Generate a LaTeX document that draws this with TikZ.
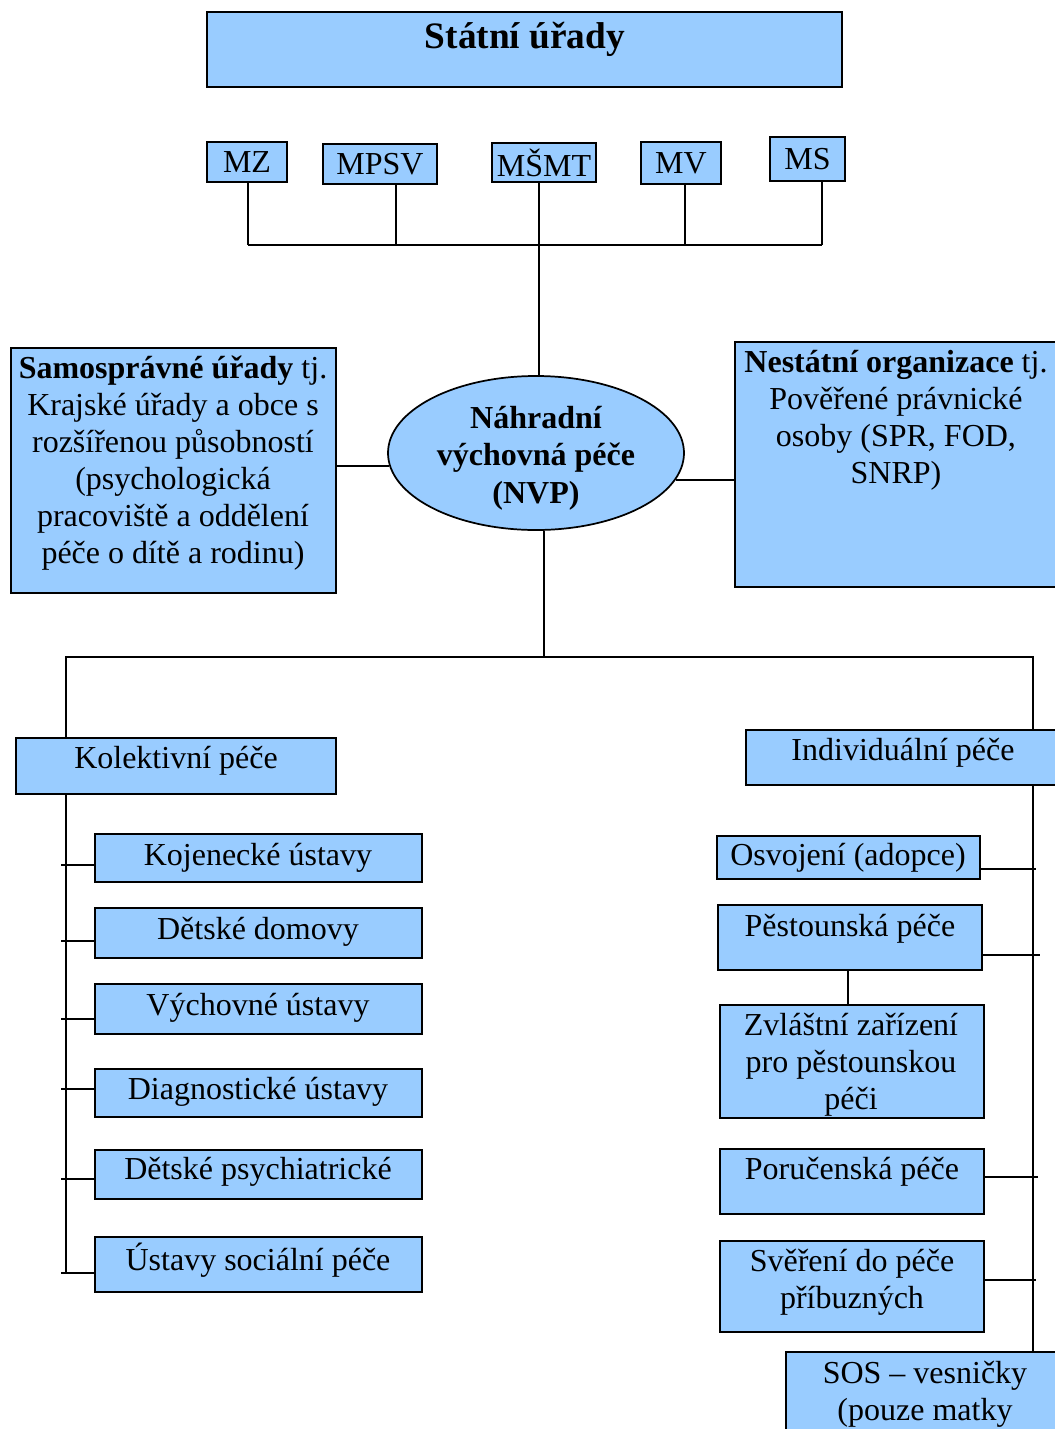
\documentclass[tikz,border=0pt]{standalone}
\usepackage{fontspec}
\setmainfont{Liberation Serif}
\usetikzlibrary{fit,shapes.geometric}
\definecolor{boxblue}{HTML}{99CCFF}
\begin{document}
\begin{tikzpicture}[x=0.75pt,y=-0.75pt,
  box/.style={draw, line width=1.3pt, fill=boxblue, inner sep=0pt, rectangle},
  txt/.style={align=center, inner sep=0pt, font=\fontsize{24}{27.75}\selectfont},
  btxt/.style={align=center, inner sep=0pt, font=\fontsize{24}{28}\selectfont\bfseries},
  conn/.style={line width=1.3pt}]
\useasboundingbox (0,0) rectangle (1055,1429);

% top
\node[box, fit={(207,12) (842,87)}] (statni) {};
\node[btxt, font=\fontsize{28}{32}\selectfont\bfseries] (statniT) at (525,39) {Státní úřady};

\node[box, fit={(207,142) (287,182)}] (mz) {};
\node[box, fit={(323,144) (437,184)}] (mpsv) {};
\node[box, fit={(492,143) (596,182)}] (msmt) {};
\node[box, fit={(641,142) (721,184)}] (mv) {};
\node[box, fit={(770,137) (845,181)}] (ms) {};
\node[txt] (mzT) at (mz) {MZ};
\node[txt] (mpsvT) at (mpsv) {MPSV};
\node[txt] (msmtT) at (msmt) {MŠMT};
\node[txt] (mvT) at (mv) {MV};
\node[txt] (msT) at (ms) {MS};

\coordinate (busL) at (248,245);
\coordinate (busR) at (822,245);
\draw[conn] (busL) -- (busR);
\draw[conn] (mz.south -| busL) -- (busL);
\draw[conn] (mpsv.south -| 396,0) -- (396,245);
\draw[conn] (mv.south -| 685,0) -- (685,245);
\draw[conn] (ms.south -| busR) -- (busR);

% centre
\node[draw, line width=1.3pt, fill=boxblue, ellipse, inner sep=0pt,
      minimum width=222pt, minimum height=115.5pt] (nvp) at (536,453) {};
\node[btxt] (nvpT) at (536,458) {Náhradní\\výchovná péče\\(NVP)};
\draw[conn] (nvp.north -| 539,0) -- (msmt.south -| 539,0);

\node[box, fit={(11,348) (336,593)}] (samo) {};
\node[txt] (samoT) at (173,463) {\textbf{Samosprávné úřady} tj.\\Krajské úřady a obce s\\rozšířenou působností\\(psychologická\\pracoviště a oddělení\\péče o dítě a rodinu)};

\node[box, fit={(735,342) (1075,587)}] (nest) {};
\node[txt] (nestT) at (896,420) {\textbf{Nestátní organizace} tj.\\Pověřené právnické\\osoby (SPR, FOD,\\SNRP)};

\draw[conn] (nvp.185) -- (nvp.185 -| samo.east);
\draw[conn] (nvp.-11) -- (nvp.-11 -| nest.west);

% lower tree
\coordinate (split) at (544,657);
\coordinate (tl) at (66,657);
\coordinate (tr) at (1033,657);

\node[box, fit={(16,738) (336,794)}] (kol) {};
\node[txt] (kolT) at (176,761) {Kolektivní péče};
\node[box, fit={(746,730) (1075,785)}] (ind) {};
\node[txt] (indT) at (903,753) {Individuální péče};

\draw[conn] (nvp.south -| split) -- (split);
\draw[conn] (tl |- kol.north) -- (tl) -- (tr) -- (tr |- ind.north);

% left column
\node[box, fit={(95,834) (422,882)}] (kj) {};
\node[txt] (kjT) at (258,858) {Kojenecké ústavy};
\node[box, fit={(95,908) (422,958)}] (dd) {};
\node[txt] (ddT) at (258,932) {Dětské domovy};
\node[box, fit={(95,984) (422,1034)}] (vu) {};
\node[txt] (vuT) at (258,1008) {Výchovné ústavy};
\node[box, fit={(95,1069) (422,1117)}] (du) {};
\node[txt] (duT) at (258,1092) {Diagnostické ústavy};
\node[box, fit={(95,1150) (422,1199)}] (dp) {};
\node[txt] (dpT) at (258,1172) {Dětské psychiatrické};
\node[box, fit={(95,1237) (422,1292)}] (us) {};
\node[txt] (usT) at (258,1260) {Ústavy sociální péče};

\draw[conn] (kol.south -| tl) -- (tl |- 0,1273);
\draw[conn] (kj.west |- 0,865) -- ++(-33,0);
\draw[conn] (dd.west |- 0,941) -- ++(-33,0);
\draw[conn] (vu.west |- 0,1019) -- ++(-33,0);
\draw[conn] (du.west |- 0,1089) -- ++(-33,0);
\draw[conn] (dp.west |- 0,1179) -- ++(-33,0);
\draw[conn] (us.west |- 0,1273) -- ++(-33,0);

% right column
\node[box, fit={(717,836) (980,879)}] (osv) {};
\node[txt] (osvT) at (848,858) {Osvojení (adopce)};
\node[box, fit={(718,905) (982,970)}] (pest) {};
\node[txt] (pestT) at (850,929) {Pěstounská péče};
\node[box, fit={(720,1005) (984,1118)}] (zvl) {};
\node[txt] (zvlT) at (851,1065) {Zvláštní zařízení\\pro pěstounskou\\péči};
\node[box, fit={(720,1149) (984,1214)}] (por) {};
\node[txt] (porT) at (852,1172) {Poručenská péče};
\node[box, fit={(720,1241) (984,1332)}] (sver) {};
\node[txt] (sverT) at (852,1282) {Svěření do péče\\příbuzných};
\node[box, fit={(786,1352) (1075,1460)}] (sos) {};
\node[txt] (sosT) at (925,1394) {SOS – vesničky\\(pouze matky};

\draw[conn] (ind.south -| tr) -- (sos.north -| tr);
\draw[conn] (osv.east |- 0,869) -- ++(55,0);
\draw[conn] (pest.east |- 0,955) -- ++(57,0);
\draw[conn] (por.east |- 0,1177) -- ++(53,0);
\draw[conn] (sver.east |- 0,1280) -- ++(51,0);
\draw[conn] (pest.south -| 848,0) -- (zvl.north -| 848,0);
\end{tikzpicture}
\end{document}
